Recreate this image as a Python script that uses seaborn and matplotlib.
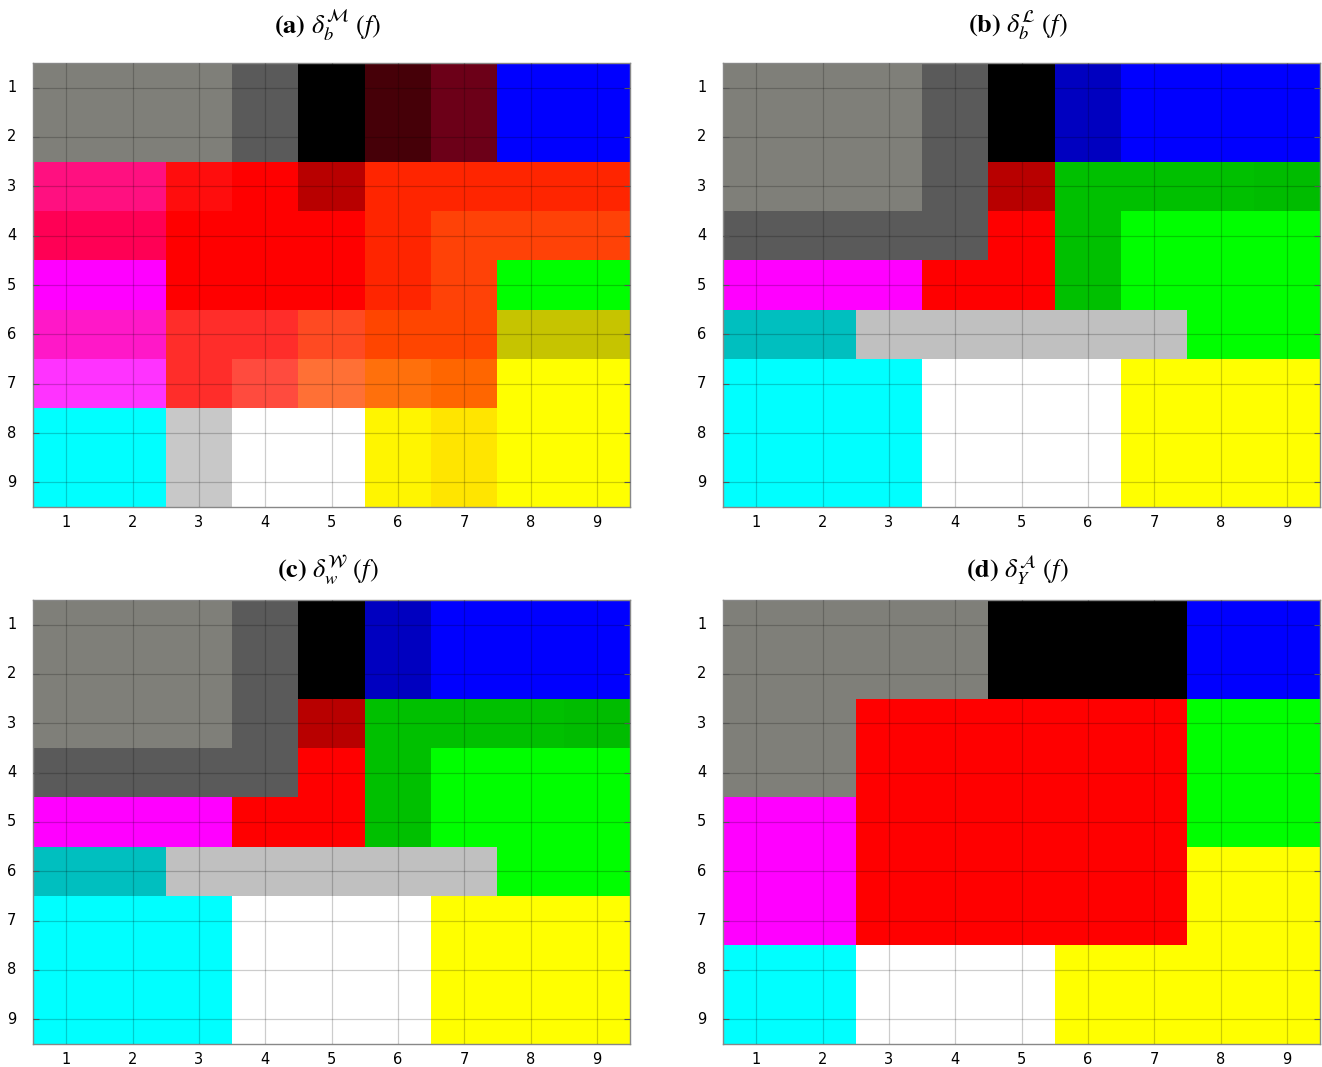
import matplotlib
matplotlib.use("Agg")
import matplotlib.pyplot as plt
import seaborn as sns
import numpy as np
from matplotlib.colors import ListedColormap

# colour codes used in the grids
palette = {
    "G": "#7f7f79", "D": "#5a5a5a", "K": "#000000", "m": "#460008", "n": "#6c0018",
    "B": "#0000ff", "b": "#0000c0", "p": "#ff1080", "q": "#ff0055", "M": "#ff00ff",
    "s": "#ff18c8", "t": "#ff33ff", "r": "#ff0d0d", "R": "#ff0000", "k": "#b80000",
    "o": "#ff2500", "O": "#ff4207", "u": "#ff2d2a", "v": "#ff4a22", "w": "#ff4500",
    "x": "#ff4b3e", "y": "#ff7035", "z": "#ff700c", "j": "#ff6600", "E": "#00ff00",
    "e": "#00c000", "f": "#00bc00", "l": "#c6c400", "Y": "#ffff00", "h": "#fff500",
    "i": "#ffe500", "C": "#00ffff", "c": "#00bfbf", "L": "#c8c8c8", "g": "#c0c0c0",
    "W": "#ffffff",
}

grid_a = [
    "GGGDKmnBB",
    "GGGDKmnBB",
    "pprRkoooo",
    "qqRRRoOOO",
    "MMRRRoOEE",
    "ssuuvwwll",
    "ttuxyzjYY",
    "CCLWWhiYY",
    "CCLWWhiYY",
]
grid_b = [
    "GGGDKbBBB",
    "GGGDKbBBB",
    "GGGDkeeef",
    "DDDDReEEE",
    "MMMRReEEE",
    "ccgggggEE",
    "CCCWWWYYY",
    "CCCWWWYYY",
    "CCCWWWYYY",
]
grid_c = [
    "GGGDKbBBB",
    "GGGDKbBBB",
    "GGGDkeeef",
    "DDDDReEEE",
    "MMMRReEEE",
    "ccgggggEE",
    "CCCWWWYYY",
    "CCCWWWYYY",
    "CCCWWWYYY",
]
grid_d = [
    "GGGGKKKBB",
    "GGGGKKKBB",
    "GGRRRRREE",
    "GGRRRRREE",
    "MMRRRRREE",
    "MMRRRRRYY",
    "MMRRRRRYY",
    "CCWWWYYYY",
    "CCWWWYYYY",
]
titles = [
    r"$\mathbf{(a)}\ \delta_b^{\mathcal{M}}\ (f)$",
    r"$\mathbf{(b)}\ \delta_b^{\mathcal{L}}\ (f)$",
    r"$\mathbf{(c)}\ \delta_w^{\mathcal{W}}\ (f)$",
    r"$\mathbf{(d)}\ \delta_Y^{\mathcal{A}}\ (f)$",
]
tick_labels = [str(i) for i in range(1, 10)]

plt.rcParams["mathtext.fontset"] = "stix"
plt.rcParams["font.family"] = ["DejaVu Sans"]

codes = list(palette.keys())
cmap = ListedColormap([palette[c] for c in codes])

fig = plt.figure(figsize=(13.22, 10.67), dpi=100)
W, H = 1322, 1067
boxes = [(33, 63), (723, 63), (33, 600), (723, 600)]
title_y = [25, 25, 570, 570]
aw, ah = 597, 444

for grid, title, (x0, y0), ty in zip([grid_a, grid_b, grid_c, grid_d], titles, boxes, title_y):
    ax = fig.add_axes([x0 / W, 1 - (y0 + ah) / H, aw / W, ah / H])
    mat = np.array([[codes.index(ch) for ch in row] for row in grid])
    sns.heatmap(mat, cmap=cmap, vmin=-0.5, vmax=len(codes) - 0.5, cbar=False,
                ax=ax, square=False)
    pos = np.arange(9) + 0.5
    ax.set_xticks(pos)
    ax.set_xticklabels(tick_labels, rotation=0, fontsize=10.5)
    ax.set_yticks(pos)
    ax.set_yticklabels(tick_labels, rotation=0, fontsize=10.5)
    ax.grid(True, color="black", alpha=0.2, linewidth=0.9)
    ax.set_axisbelow(False)
    ax.tick_params(axis="y", direction="in", length=4, left=True, right=True,
                   color="#555555", pad=12)
    ax.tick_params(axis="x", direction="in", length=0, pad=6)
    for sp in ax.spines.values():
        sp.set_visible(True)
        sp.set_color("#888888")
        sp.set_linewidth(1.0)
    fig.text((x0 + aw / 2 - 4) / W, 1 - ty / H, title, fontsize=19,
             ha="center", va="center")

fig.savefig("out.png", dpi=100)
